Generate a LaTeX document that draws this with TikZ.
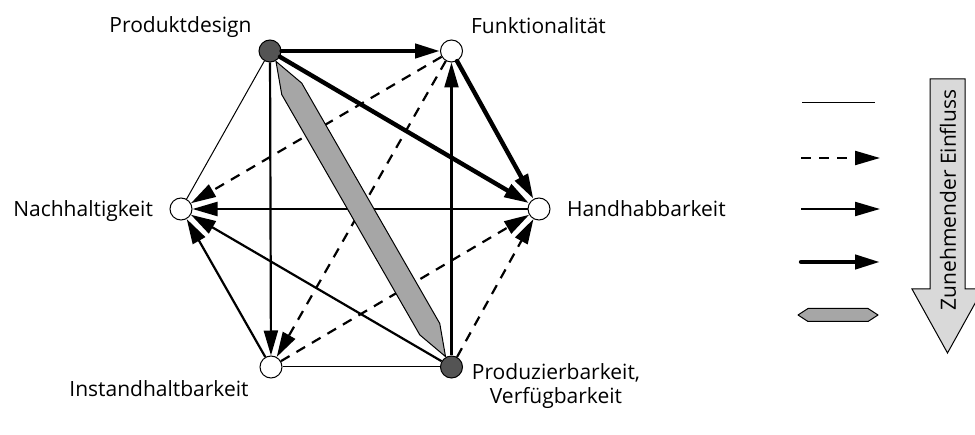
\documentclass[tikz,border=0pt]{standalone}
\usepackage{fontspec}
\setmainfont{Open Sans}
\usetikzlibrary{arrows.meta, calc}
\colorlet{cDark}{black!67}
\colorlet{cBand}{black!35}
\colorlet{cScale}{black!15}

\begin{document}
\begin{tikzpicture}[x=0.5pt, y=0.5pt,
    every node/.style={font=\fontsize{10.5}{12.5}\selectfont},
    factor/.style={circle, draw, line width=0.5pt, fill=white, minimum size=11pt, inner sep=0pt},
    keyfactor/.style={factor, fill=cDark},
    tip/.style={-{Triangle[length=12.5pt, width=7pt]}},
    weak/.style={line width=0.5pt},
    dashlink/.style={tip, line width=1.1pt, dash pattern=on 5pt off 4pt},
    link/.style={tip, line width=1.1pt},
    strong/.style={tip, line width=2.2pt, line cap=round},
    band/.style={draw, line width=0.5pt, fill=cBand, line join=round}]
  \useasboundingbox (0,0) rectangle (975,434);

  % factors
  \node[keyfactor] (design) at (270,383) {};
  \node[factor]    (funct)  at (451.5,383) {};
  \node[factor]    (handh)  at (539,225) {};
  \node[keyfactor] (prod)   at (451.5,67) {};
  \node[factor]    (inst)   at (271,67) {};
  \node[factor]    (nachh)  at (181,225) {};

  \node[anchor=base] (tdesign) at (180.5,401) {Produktdesign};
  \node[anchor=base] (tfunct)  at (538.5,400) {Funktionalität};
  \node[anchor=base west] (thandh) at (560,217) {Handhabbarkeit};
  \node[anchor=base east] (tnachh) at (160,217) {Nachhaltigkeit};
  \node[anchor=base] (tinst)   at (159,38) {Instandhaltbarkeit};
  \node[anchor=base, align=center] (tprod) at (556,31) {Produzierbarkeit,\\[-0.5pt]Verfügbarkeit};

  % relations
  \draw[weak] (design) -- (nachh);
  \draw[weak] (inst) -- (prod);
  \foreach \a/\b in {funct/nachh, funct/inst, inst/handh, prod/handh}
    \draw[dashlink] (\a) -- (\b);
  \foreach \a/\b in {design/inst, prod/funct, handh/nachh, prod/nachh, inst/nachh}
    \draw[link] (\a) -- (\b);
  \foreach \a/\b in {design/funct, design/handh, funct/handh}
    \draw[strong] (\a) -- (\b);

  % strongest relation
  \draw[band] ($(design.center)!6pt!(prod.center)$)
    -- ($(design.center)!21.8pt!(prod.center)!5.75pt!90:(prod.center)$)
    -- ($(prod.center)!21.8pt!(design.center)!5.75pt!-90:(design.center)$)
    -- ($(prod.center)!6pt!(design.center)$)
    -- ($(prod.center)!21.8pt!(design.center)!5.75pt!90:(design.center)$)
    -- ($(design.center)!21.8pt!(prod.center)!5.75pt!-90:(prod.center)$)
    -- cycle;

  % legend
  \coordinate (k1a) at (802,331); \coordinate (k1b) at (875,331);
  \coordinate (k2a) at (801,276); \coordinate (k2b) at (880,276);
  \coordinate (k3a) at (801,225); \coordinate (k3b) at (880,225);
  \coordinate (k4a) at (801,172); \coordinate (k4b) at (880,172);
  \draw[weak] (k1a) -- (k1b);
  \draw[dashlink] (k2a) -- (k2b);
  \draw[link] (k3a) -- (k3b);
  \draw[strong] (k4a) -- (k4b);
  \draw[band] (798,119) -- (808,125.5) -- (868,125.5) -- (878,119)
    -- (868,112.5) -- (808,112.5) -- cycle;

  \draw[line width=0.5pt, fill=cScale] (930,355) -- (965,355) -- (965,145) -- (983,145)
    -- (947.5,81) -- (912,145) -- (930,145) -- cycle;
  \node[rotate=90] (tscale) at (948,234) {Zunehmender Einfluss};
\end{tikzpicture}
\end{document}
